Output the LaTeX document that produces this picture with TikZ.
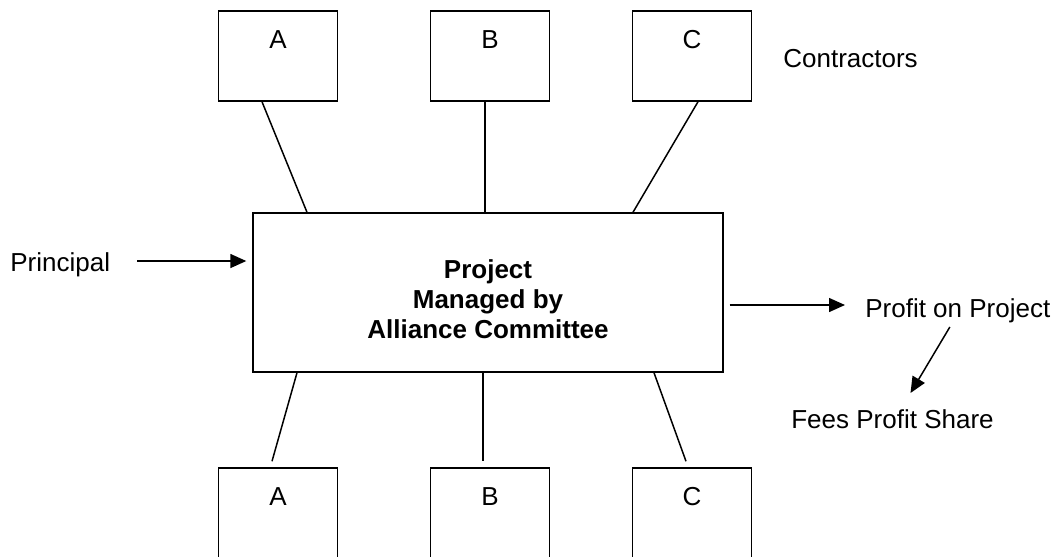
\documentclass[tikz,border=0pt]{standalone}
\usepackage{fontspec}
\setmainfont{Liberation Sans}
\usetikzlibrary{arrows.meta, calc, positioning}
\tikzset{
  firm/.style={
    rectangle, draw=black, line width=0.85pt, minimum width=2.38cm, minimum height=1.8cm,
    label={[anchor=base, yshift=-0.76cm, inner sep=0pt]north:#1}},
  hub/.style={
    rectangle, draw=black, line width=0.85pt, minimum width=9.4cm, minimum height=3.18cm},
  tag/.style={inner sep=0pt, anchor=base west},
  link/.style={line width=0.85pt},
  flow/.style={line width=0.85pt, -{Triangle[length=0.32cm, width=0.28cm]}}
}

\begin{document}
\begin{tikzpicture}[x=0.02cm, y=-0.02cm, font=\fontsize{14.8}{17}\selectfont]
        \useasboundingbox (0,0) rectangle (1063,556);
        \clip (0,0) rectangle (1063,556);
        \node[hub] (proj) at (488,292.5) {};
        \node[align=center, inner sep=0pt, font=\fontsize{14.8}{17}\selectfont\bfseries] (title) at ($(proj.center)+(0,7)$) {Project\\Managed by\\Alliance Committee};
        \node[firm=A] (tA) at (278,56) {};
        \node[firm=B] (tB) at (490,56) {};
        \node[firm=C] (tC) at (692,56) {};
        \node[firm=A] (bA) at (278,513) {};
        \node[firm=B] (bB) at (490,513) {};
        \node[firm=C] (bC) at (692,513) {};
        \node[tag] (contractors) at (783,67) {Contractors};
        \node[tag] (principal) at (10,271) {Principal};
        \node[tag] (profit) at (865,317) {Profit on Project};
        \node[tag] (fees) at (791,428) {Fees Profit Share};
        \draw[link] ($(tA.south)+(-16,0)$) -- ($(proj.north)+(-181,0)$);
        \draw[link] ($(tB.south)+(-5,0)$) -- ($(proj.north)+(-3,0)$);
        \draw[link] ($(tC.south)+(6,0)$) -- ($(proj.north)+(145,0)$);
        \draw[link] ($(proj.south)+(-191,0)$) -- ($(bA.north)+(-6,-6)$);
        \draw[link] ($(proj.south)+(-5,0)$) -- ($(bB.north)+(-7,-6)$);
        \draw[link] ($(proj.south)+(166,0)$) -- ($(bC.north)+(-6,-6)$);
        \draw[flow] ($(principal.base east)+(27,-10)$) -- ($(proj.west |- principal.base east)+(-6,-10)$);
        \draw[flow] ($(proj.east |- profit.base west)+(6,-12)$) -- ($(profit.base west)+(-20,-12)$);
        \draw[flow] ($(profit.base)+(-8,10)$) -- ($(fees.base)+(18,-35)$);
    \end{tikzpicture}
\end{document}
